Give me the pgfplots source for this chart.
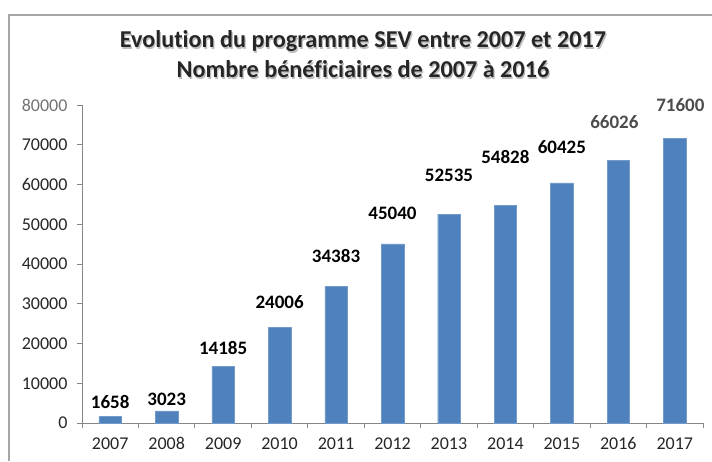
\documentclass[border=0pt]{standalone}
\usepackage{fontspec}
\setmainfont{Carlito}[Ligatures=NoCommon]
\usepackage{pgfplots}
\pgfplotsset{compat=1.18}
\definecolor{barblue}{HTML}{4F81BD}
\definecolor{axgray}{HTML}{868686}
\definecolor{txt}{HTML}{262626}
\begin{document}
\begin{tikzpicture}
\useasboundingbox (0,0) rectangle (712pt,461pt);
\draw[color=black!35, line width=1.3pt] (9pt,0) -- (9pt,446pt) -- (712pt,446pt);
% title with soft shadow
\foreach \dx/\dy/\c in {1.2/-1.2/black!25, 0/0/txt}{
  \node[font=\bfseries\fontsize{24.2}{28}\selectfont, anchor=base, text=\c] at ([xshift=\dx pt, yshift=\dy pt]363pt,413pt) {Evolution du programme SEV entre 2007 et 2017};
  \node[font=\bfseries\fontsize{24.2}{28}\selectfont, anchor=base, text=\c] at ([xshift=\dx pt, yshift=\dy pt]363pt,383pt) {Nombre bénéficiaires de 2007 à 2016};
}
\begin{axis}[
  at={(82pt,38pt)}, anchor=south west,
  scale only axis, width=621pt, height=318pt,
  xmin=-0.5, xmax=10.5, ymin=0, ymax=80000,
  axis x line*=bottom, axis y line*=left,
  axis line style={axgray, line width=0.9pt},
  clip=false,
  scaled y ticks=false,
  xtick={0,...,10},
  xticklabels={2007,2008,2009,2010,2011,2012,2013,2014,2015,2016,2017},
  major x tick style={draw=none},
  minor xtick={-0.5,0.5,...,10.5},
  minor x tick style={axgray, line width=0.9pt},
  ytick={0,10000,...,80000},
  yticklabels={0,10000,20000,30000,40000,50000,60000,70000,\textcolor{black!55}{80000}},
  y tick style={axgray, line width=0.9pt},
  tick align=outside,
  major tick length=5pt, minor tick length=5pt,
  ticklabel style={font=\fontsize{18}{21}\selectfont, text=txt},
  xticklabel style={yshift=-6pt},
  yticklabel style={xshift=-6pt},
  /pgf/number format/assume math mode=true,
]
\addplot[ybar, bar width=22.5pt, fill=barblue, draw=barblue!80!white] coordinates {
  (0,1658) (1,3023) (2,14185) (3,24006) (4,34383) (5,45040)
  (6,52535) (7,54828) (8,60425) (9,66026) (10,71600)};
\addplot[draw=none, mark=none, nodes near coords, point meta=explicit symbolic,
  nodes near coords style={font=\bfseries\fontsize{19}{22}\selectfont, anchor=center, text=black}]
  coordinates {
  (0,5300)[1658] (1,6038)[3023] (2,18868)[14185] (3,30440)[24006]
  (4,42013)[34383] (5,52830)[45040] (6,62390)[52535] (7,66918)[54828]
  (8,69510)[60425]};
\addplot[draw=none, mark=none, nodes near coords, point meta=explicit symbolic,
  nodes near coords style={font=\bfseries\fontsize{19}{22}\selectfont, anchor=center, text=black!70}]
  coordinates {(8.93,75723)[66026] (10.1,80000)[71600]};
\end{axis}
\end{tikzpicture}
\end{document}
